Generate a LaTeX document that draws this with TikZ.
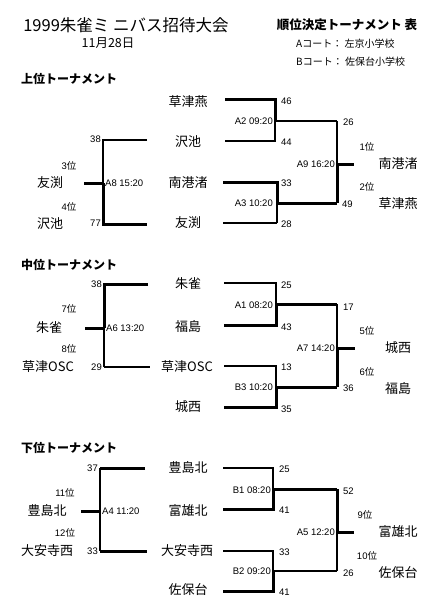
\documentclass[tikz,border=0pt]{standalone}
\usepackage{fontspec}
\setmainfont{Noto Sans CJK JP}
\newfontfamily\latf{Liberation Sans}
\newcommand\myfs[1]{\fontsize{#1}{#1}\selectfont}
\newcommand\rk[1]{{\latf #1}位}
\tikzset{
  team/.style={inner sep=0pt, font=\myfs{13}},
  score/.style={inner sep=0pt, font=\myfs{9.5}\latf},
  match/.style={inner sep=0pt, font=\myfs{9.5}\latf},
  rank/.style={inner sep=0pt, font=\myfs{9.5}},
  head/.style={inner sep=0pt, font=\myfs{12}\bfseries, anchor=west},
  win/.style={line width=3pt, line join=miter},
  mid/.style={line width=2.2pt, line join=miter},
  lose/.style={line width=1.5pt, line join=miter},
}
\begin{document}
\begin{tikzpicture}[x=1pt,y=-1pt]
\useasboundingbox[fill=white] (0,0) rectangle (441,615);
% header
\node[inner sep=0pt, font=\myfs{16.5}] (title) at (126,25) {1999朱雀ミ ニバス招待大会};
\node[inner sep=0pt, font=\myfs{12.5}] (date) at (108,43) {11月28日};
\node[inner sep=0pt, font=\myfs{12.5}\bfseries] (rtitle) at (347,25) {順位決定トーナメント 表};
\node[inner sep=0pt, font=\myfs{10}, anchor=west] (courta) at (296,44) {Aコート： 左京小学校};
\node[inner sep=0pt, font=\myfs{10}, anchor=west] (courtb) at (296,62) {Bコート： 佐保台小学校};

% ================= upper =================
\node[head] (h1) at (21,79) {上位トーナメント};
\node[team] (u1) at (188,102) {草津燕};
\node[team] (u2) at (188,142) {沢池};
\node[team] (u3) at (188,183) {南港渚};
\node[team] (u4) at (188,223) {友渕};
% A2
\coordinate (a2t1) at (225,100); \coordinate (a2t2) at (275,100);
\coordinate (a2b1) at (225,141); \coordinate (a2b2) at (275,141);
\coordinate (a2m) at (275,121); \coordinate (a9t) at (337,121);
\draw[win] (a2t1) -- (a2t2) -- (a2m);
\draw[lose] (a2m) -- (a2b2) -- (a2b1);
\draw[lose] (a2m) -- (a9t);
\node[score, anchor=west] (s46) at (281,101) {46};
\node[score, anchor=west] (s44) at (281,142) {44};
\node[match, anchor=east] (mA2) at (273,121) {A2 09:20};
\node[score, anchor=west] (s26a) at (343,122) {26};
% A3
\coordinate (a3t1) at (223,182); \coordinate (a3t2) at (277,182);
\coordinate (a3b1) at (223,223); \coordinate (a3b2) at (277,223);
\coordinate (a3m) at (277,203); \coordinate (a9b) at (337,203);
\draw[win] (a3t1) -- (a3t2) -- (a3m);
\draw[lose] (a3m) -- (a3b2);
\draw[mid] (a3b2) -- (a3b1);
\draw[win] (a3m) -- (a9b);
\node[score, anchor=west] (s33a) at (281,183) {33};
\node[score, anchor=west] (s28) at (281,224) {28};
\node[match, anchor=east] (mA3) at (273,203) {A3 10:20};
\node[score, anchor=west] (s49) at (342,204) {49};
% A9
\coordinate (a9m) at (337,164); \coordinate (a9s) at (354,164);
\draw[lose] (a9t) -- (a9m);
\draw[win] (a9m) -- (a9b);
\draw[win] (a9m) -- (a9s);
\node[match, anchor=east] (mA9) at (335,164) {A9 16:20};
\node[rank] (r1) at (367,147) {\rk{1}};
\node[team] (w1) at (398,164) {南港渚};
\node[rank] (r2) at (367,187) {\rk{2}};
\node[team] (w2) at (398,204) {草津燕};
% A8
\coordinate (a8t1) at (147,140); \coordinate (a8t2) at (103,140);
\coordinate (a8b1) at (147,224); \coordinate (a8b2) at (103,224);
\coordinate (a8m) at (103,183); \coordinate (a8s) at (84,183);
\draw[mid] (a8t1) -- (a8t2) -- (a8m);
\draw[win] (a8m) -- (a8b2) -- (a8b1);
\draw[win] (a8m) -- (a8s);
\node[score, anchor=east] (s38a) at (101,139) {38};
\node[score, anchor=east] (s77) at (101,223) {77};
\node[match, anchor=west] (mA8) at (105,183) {A8 15:20};
\node[rank] (r3) at (69,166) {\rk{3}};
\node[team] (w3) at (50,183) {友渕};
\node[rank] (r4) at (69,207) {\rk{4}};
\node[team] (w4) at (50,224) {沢池};

% ================= middle =================
\node[head] (h2) at (21,265) {中位トーナメント};
\node[team] (m1) at (188,284) {朱雀};
\node[team] (m2) at (188,327) {福島};
\node[team] (m3) at (187,367) {草津OSC};
\node[team] (m4) at (188,407) {城西};
% A1
\coordinate (a1t1) at (224,283); \coordinate (a1t2) at (276,283);
\coordinate (a1b1) at (224,325); \coordinate (a1b2) at (276,325);
\coordinate (a1m) at (276,304); \coordinate (a7t) at (337,304);
\draw[lose] (a1t1) -- (a1t2) -- (a1m);
\draw[win] (a1m) -- (a1b2) -- (a1b1);
\draw[win] (a1m) -- (a7t);
\node[score, anchor=west] (s25a) at (281,285) {25};
\node[score, anchor=west] (s43) at (281,327) {43};
\node[match, anchor=east] (mA1) at (273,305) {A1 08:20};
\node[score, anchor=west] (s17) at (343,307) {17};
% B3
\coordinate (b3t1) at (224,366); \coordinate (b3t2) at (276,366);
\coordinate (b3b1) at (224,407); \coordinate (b3b2) at (276,407);
\coordinate (b3m) at (276,387); \coordinate (a7b) at (337,387);
\draw[lose] (b3t1) -- (b3t2) -- (b3m);
\draw[win] (b3m) -- (b3b2) -- (b3b1);
\draw[win] (b3m) -- (a7b);
\node[score, anchor=west] (s13) at (281,367) {13};
\node[score, anchor=west] (s35) at (281,409) {35};
\node[match, anchor=east] (mB3) at (273,387) {B3 10:20};
\node[score, anchor=west] (s36) at (343,388) {36};
% A7
\coordinate (a7m) at (337,348); \coordinate (a7s) at (355,348);
\draw[lose] (a7t) -- (a7m);
\draw[win] (a7m) -- (a7b);
\draw[win] (a7m) -- (a7s);
\node[match, anchor=east] (mA7) at (335,348) {A7 14:20};
\node[rank] (r5) at (367,331) {\rk{5}};
\node[team] (w5) at (398,348) {城西};
\node[rank] (r6) at (367,372) {\rk{6}};
\node[team] (w6) at (398,389) {福島};
% A6
\coordinate (a6t1) at (148,284); \coordinate (a6t2) at (104,284);
\coordinate (a6b1) at (150,367); \coordinate (a6b2) at (104,367);
\coordinate (a6m) at (104,328); \coordinate (a6s) at (85,328);
\draw[win] (a6t1) -- (a6t2) -- (a6m);
\draw[lose] (a6m) -- (a6b2);
\draw[mid] (a6b2) -- (a6b1);
\draw[win] (a6m) -- (a6s);
\node[score, anchor=east] (s38b) at (102,284) {38};
\node[score, anchor=east] (s29) at (102,367) {29};
\node[match, anchor=west] (mA6) at (106,328) {A6 13:20};
\node[rank] (r7) at (69,309) {\rk{7}};
\node[team] (w7) at (49,328) {朱雀};
\node[rank] (r8) at (69,349) {\rk{8}};
\node[team] (w8) at (48,367) {草津OSC};

% ================= lower =================
\node[head] (h3) at (21,448) {下位トーナメント};
\node[team] (l1) at (188,468) {豊島北};
\node[team] (l2) at (188,511) {富雄北};
\node[team] (l3) at (187,551) {大安寺西};
\node[team] (l4) at (188,590) {佐保台};
% B1
\coordinate (b1t1) at (223,468); \coordinate (b1t2) at (273,468);
\coordinate (b1b1) at (223,509); \coordinate (b1b2) at (273,509);
\coordinate (b1m) at (273,489); \coordinate (a5t) at (337,489);
\draw[mid] (b1t1) -- (b1t2) -- (b1m);
\draw[win] (b1m) -- (b1b2) -- (b1b1);
\draw[win] (b1m) -- (a5t);
\node[score, anchor=west] (s25b) at (279,469) {25};
\node[score, anchor=west] (s41a) at (279,510) {41};
\node[match, anchor=east] (mB1) at (271,490) {B1 08:20};
\node[score, anchor=west] (s52) at (343,491) {52};
% B2
\coordinate (b2t1) at (223,551); \coordinate (b2t2) at (273,551);
\coordinate (b2b1) at (223,591); \coordinate (b2b2) at (273,591);
\coordinate (b2m) at (273,571); \coordinate (a5b) at (337,571);
\draw[lose] (b2t1) -- (b2t2) -- (b2m);
\draw[win] (b2m) -- (b2b2) -- (b2b1);
\draw[lose] (b2m) -- (a5b);
\node[score, anchor=west] (s33b) at (279,552) {33};
\node[score, anchor=west] (s41b) at (279,592) {41};
\node[match, anchor=east] (mB2) at (271,571) {B2 09:20};
\node[score, anchor=west] (s26b) at (343,573) {26};
% A5
\coordinate (a5m) at (337,532); \coordinate (a5s) at (354,532);
\draw[win] (a5t) -- (a5m);
\draw[lose] (a5m) -- (a5b);
\draw[win] (a5m) -- (a5s);
\node[match, anchor=east] (mA5) at (335,532) {A5 12:20};
\node[rank] (r9) at (365,515) {\rk{9}};
\node[team] (w9) at (398,532) {富雄北};
\node[rank] (r10) at (367,556) {\rk{10}};
\node[team] (w10) at (398,573) {佐保台};
% A4
\coordinate (a4t1) at (145,468); \coordinate (a4t2) at (100,468);
\coordinate (a4b1) at (147,551); \coordinate (a4b2) at (100,551);
\coordinate (a4m) at (100,511); \coordinate (a4s) at (81,511);
\draw[win] (a4t1) -- (a4t2);
\draw[mid] (a4t2) -- (a4m);
\draw[lose] (a4m) -- (a4b2);
\draw[win] (a4b2) -- (a4b1);
\draw[win] (a4m) -- (a4s);
\node[score, anchor=east] (s37) at (98,468) {37};
\node[score, anchor=east] (s33c) at (98,551) {33};
\node[match, anchor=west] (mA4) at (102,511) {A4 11:20};
\node[rank] (r11) at (65,493) {\rk{11}};
\node[team] (w11) at (47,511) {豊島北};
\node[rank] (r12) at (65,533) {\rk{12}};
\node[team] (w12) at (47,551) {大安寺西};
\end{tikzpicture}
\end{document}
